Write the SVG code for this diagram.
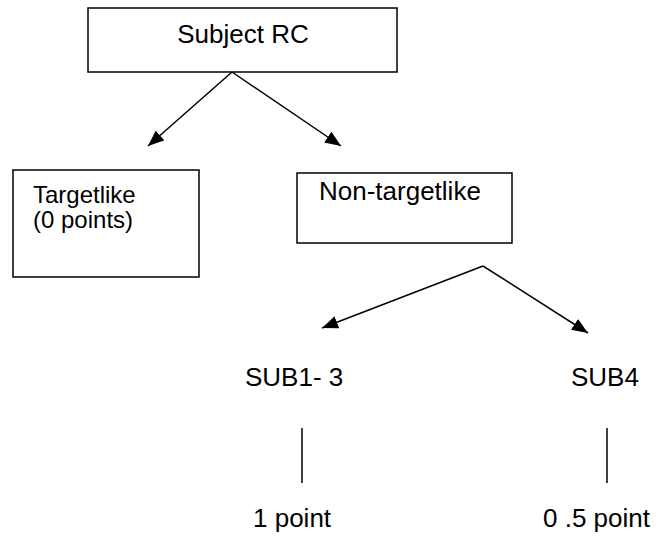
<svg xmlns="http://www.w3.org/2000/svg" width="660" height="537" viewBox="0 0 660 537">
  <style>
    .box { fill: #ffffff; stroke: #000000; stroke-width: 1.5; }
    .lbl { font-family: "Liberation Sans", Arial, sans-serif; font-size: 26px; fill: #000000; }
    .small { font-size: 24px; }
    .edge { stroke: #000000; stroke-width: 1.5; fill: none; }
    .arrow { stroke: #000000; stroke-width: 1.5; fill: none; marker-end: url(#head); }
  </style>
  <defs>
    <!-- filled triangular arrowhead, sized in user units -->
    <marker id="head" viewBox="0 0 10 10" refX="10" refY="5" markerWidth="16" markerHeight="13" markerUnits="userSpaceOnUse" orient="auto" preserveAspectRatio="none">
      <path d="M0,0 L10,5 L0,10 Z" fill="#000000"/>
    </marker>
  </defs>
  <rect width="660" height="537" fill="#ffffff"/>

  <g id="subject-rc">
    <rect class="box" x="88" y="8" width="309" height="64"/>
    <text class="lbl" x="243" y="43" text-anchor="middle">Subject RC</text>
  </g>

  <g id="targetlike">
    <rect class="box" x="13" y="170" width="186" height="107"/>
    <text class="lbl small" x="33" y="203">Targetlike</text>
    <text class="lbl small" x="33" y="228">(0 points)</text>
  </g>

  <g id="non-targetlike">
    <rect class="box" x="297" y="173" width="215" height="70"/>
    <text class="lbl" x="319" y="200">Non-targetlike</text>
  </g>

  <g id="sub1-3">
    <text class="lbl" x="245" y="386">SUB1- 3</text>
  </g>

  <g id="sub4">
    <text class="lbl" x="571" y="386">SUB4</text>
  </g>

  <g id="one-point">
    <text class="lbl" x="253" y="527">1 point</text>
  </g>

  <g id="half-point">
    <text class="lbl" x="543" y="527">0 .5 point</text>
  </g>

  <g id="connectors">
    <line class="arrow" x1="232" y1="72" x2="148" y2="146"/>
    <line class="arrow" x1="232" y1="72" x2="341" y2="146"/>
    <line class="arrow" x1="483" y1="266" x2="322" y2="328"/>
    <line class="arrow" x1="483" y1="266" x2="588" y2="333"/>
    <line class="edge" x1="302" y1="428" x2="302" y2="483"/>
    <line class="edge" x1="607" y1="428" x2="607" y2="483"/>
  </g>
</svg>
